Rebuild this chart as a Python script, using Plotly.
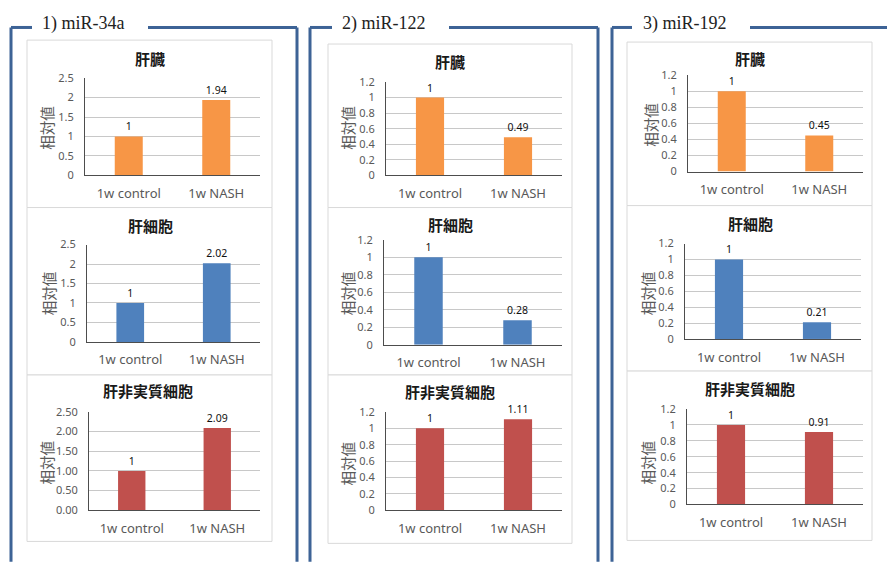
import plotly.graph_objects as go

# ---- data -------------------------------------------------------------
genes = ["1) miR-34a", "2) miR-122", "3) miR-192"]
tissues = ["肝臓", "肝細胞", "肝非実質細胞"]
groups = ["1w control", "1w NASH"]

liver = [[1, 1.94], [1, 0.49], [1, 0.45]]
hepatocyte = [[1, 2.02], [1, 0.28], [1, 0.21]]
nonparenchymal = [[1, 2.09], [1, 1.11], [1, 0.91]]

ticks_a = [0, 0.5, 1, 1.5, 2, 2.5]
ticks_b = [0, 0.2, 0.4, 0.6, 0.8, 1, 1.2]
y_label = "相対値"

# ---- style ------------------------------------------------------------
W, H = 887, 564
tissue_colors = ["#F79646", "#4F81BD", "#C0504D"]
frame_color = "#3D6396"
grid_color = "#C8C8C8"
axis_color = "#4D4D4D"
text_gray = "#595959"
jp_font = "Noto Sans CJK JP"
latin_font = "Noto Sans"


def fx(x):
    return x / W


def fy(y):
    return 1 - y / H


# plot-area rectangles in pixels: (left, right, top, bottom), per gene / tissue
plot_rects = [
    [(85, 260, 72, 172), (87, 260, 243, 343), (89, 260, 415, 516)],
    [(386, 562, 76, 172), (384, 562, 238, 346), (386, 562, 415, 516)],
    [(688, 863, 69, 168), (685, 861, 242, 340), (687, 863, 412, 510)],
]
# white chart boxes: (left, right, top, bottom)
box_rects = [
    [(27, 272, 33, 205), (27, 272, 205, 377), (27, 272, 377, 548)],
    [(328, 572, 37, 205), (328, 572, 205, 377), (328, 572, 377, 550)],
    [(627, 872, 35, 203), (627, 872, 203, 373), (627, 872, 373, 547)],
]
title_pos = [
    [(150, 52), (150, 223), (148, 393)],
    [(450, 55), (450, 222), (450, 394)],
    [(750, 52), (750, 221), (750, 391)],
]
ytitle_pos = [
    [(47, 123), (48, 293), (47, 467)],
    [(348, 123), (347, 293), (348, 468)],
    [(651, 120), (647, 293), (648, 467)],
]
# outer frames: left, right (None = runs off the page), gap start, gap end
frames = [(11, 297, 32, 148), (310, 598, 332, 449), (612, None, 632, 750)]
frame_title_x = [83, 384, 685]
frame_top = 20

series = [liver, hepatocyte, nonparenchymal]

fig = go.Figure()
layout = dict(
    width=W, height=H,
    margin=dict(l=0, r=0, t=0, b=0),
    paper_bgcolor="white", plot_bgcolor="rgba(0,0,0,0)",
    bargap=0.68, showlegend=False,
    annotations=[], shapes=[],
)


def fmt(v):
    return f"{v:g}"


n = 0
for g in range(3):
    for t in range(3):
        n += 1
        suffix = "" if n == 1 else str(n)
        vals = series[t][g]
        fig.add_trace(go.Bar(
            x=groups, y=vals,
            marker=dict(color=tissue_colors[t], line=dict(width=0)),
            text=[fmt(v) for v in vals], textposition="outside",
            textfont=dict(size=10.5, color="#111111", family=latin_font),
            constraintext="none", cliponaxis=False,
            xaxis="x" + suffix, yaxis="y" + suffix, hoverinfo="skip",
        ))
        l, r, tp, b = plot_rects[g][t]
        ticks = ticks_a if g == 0 else ticks_b
        if g == 0 and t == 2:
            tick_text = [f"{v:.2f}" for v in ticks]
        else:
            tick_text = [fmt(v) for v in ticks]
        layout["xaxis" + suffix] = dict(
            domain=[fx(l), fx(r)], anchor="y" + suffix,
            showline=True, linecolor=axis_color, linewidth=1,
            showgrid=False, ticks="", ticklabelstandoff=6,
            tickfont=dict(size=13, color=text_gray, family=latin_font),
            fixedrange=True,
        )
        layout["yaxis" + suffix] = dict(
            domain=[fy(b), fy(tp)], anchor="x" + suffix,
            range=[0, ticks[-1]], tickmode="array",
            tickvals=ticks, ticktext=tick_text,
            showline=True, linecolor=axis_color, linewidth=1,
            showgrid=True, gridcolor=grid_color, gridwidth=1,
            zeroline=False, ticks="", ticklabelstandoff=8,
            tickfont=dict(size=11, color=text_gray, family=latin_font),
            fixedrange=True,
        )
        # chart box
        bl, br, bt, bb = box_rects[g][t]
        layout["shapes"].append(dict(
            type="rect", xref="paper", yref="paper", layer="below",
            x0=fx(bl), x1=fx(br), y0=fy(bb), y1=fy(bt),
            line=dict(color="#D9D9D9", width=1), fillcolor="white",
        ))
        # chart title
        tx, ty = title_pos[g][t]
        layout["annotations"].append(dict(
            text=f"<b>{tissues[t]}</b>", x=fx(tx), y=fy(ty),
            xref="paper", yref="paper", showarrow=False,
            xanchor="center", yanchor="middle",
            font=dict(size=15, color="#1A1A1A", family=jp_font),
        ))
        # y-axis title
        yx, yy = ytitle_pos[g][t]
        layout["annotations"].append(dict(
            text=y_label, x=fx(yx), y=fy(yy), textangle=-90,
            xref="paper", yref="paper", showarrow=False,
            xanchor="center", yanchor="middle",
            font=dict(size=14.5, color=text_gray, family=jp_font),
        ))

# outer blue frames with their headings
for g, (left, right, gap0, gap1) in enumerate(frames):
    right_px = right if right is not None else W + 5
    line = dict(color=frame_color, width=3)
    segs = [
        (left, frame_top, gap0, frame_top),
        (gap1, frame_top, right_px, frame_top),
        (left, frame_top, left, H + 5),
    ]
    if right is not None:
        segs.append((right, frame_top, right, H + 5))
    for x0, y0, x1, y1 in segs:
        layout["shapes"].append(dict(
            type="line", xref="paper", yref="paper",
            x0=fx(x0), y0=fy(y0), x1=fx(x1), y1=fy(y1), line=line,
        ))
    layout["annotations"].append(dict(
        text=genes[g], x=fx(frame_title_x[g]), y=fy(16),
        xref="paper", yref="paper", showarrow=False,
        xanchor="center", yanchor="middle",
        font=dict(size=18, color="#222222", family="Liberation Serif"),
    ))

fig.update_layout(**layout)
fig.write_html("out.html")
